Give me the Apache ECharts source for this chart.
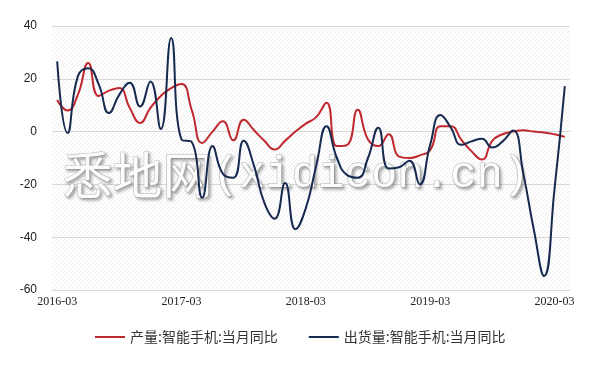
<!DOCTYPE html>
<html><head><meta charset="utf-8">
<script src="https://cdn.jsdelivr.net/npm/echarts@6/dist/echarts.min.js"></script>
<style>html,body{margin:0;padding:0;background:#fff}#c{width:612px;height:369px}</style>
</head><body><div id="c"></div><script>
const months = [
 '2016-03','2016-04','2016-05','2016-06','2016-07','2016-08','2016-09','2016-10','2016-11','2016-12',
 '2017-01','2017-02','2017-03','2017-04','2017-05','2017-06','2017-07','2017-08','2017-09','2017-10',
 '2017-11','2017-12','2018-01','2018-02','2018-03','2018-04','2018-05','2018-06','2018-07','2018-08',
 '2018-09','2018-10','2018-11','2018-12','2019-01','2019-02','2019-03','2019-04','2019-05','2019-06',
 '2019-07','2019-08','2019-09','2019-10','2019-11','2019-12','2020-01','2020-02','2020-03','2020-04'];
const xTickLabels = ['2016-03','2017-03','2018-03','2019-03','2020-03'];
const seriesNames = ['产量:智能手机:当月同比','出货量:智能手机:当月同比'];
const production = [
 12, 8, 14, 26, 13.5, 15.5, 16.5, 9, 3.3, 9,
 13.5, 16.5, 18, 8, -4.3, 0, 3.9, -3.3, 4.5, 0.5,
 -3.5, -6.8, -3.5, 0, 3, 5.5, 10.9, -5.5, -5, 8.3,
 -3, -5.5, -1, -9.5, -10, -9, -7, 2, 2, -3,
 -7.5, -10.6, -3.5, -1, 0, 0.5, 0, -0.3, -1, -2];
const shipments = [
 26.6, -0.5, 21, 24, 18, 7, 14, 18.5, 9.5, 19,
 1, 35.5, -3, -4, -25, -5.5, -16, -17.5, -3.5, -13,
 -27, -33, -19.5, -37, -29, -13, 2, -10, -16.5, -17.5,
 -10, 1.5, -14, -13.5, -11, -20, -5, 6.3, 1.5, -5,
 -3.7, -2.7, -6, -3.7, 0.4, -16, -37, -54.7, -22, 17.2];
const yMin = -60, yMax = 40, yStep = 20;

const pc = document.createElement('canvas');
pc.width = 4; pc.height = 4;
const g = pc.getContext('2d');
g.strokeStyle = '#eeeeee'; g.lineWidth = 1;
g.beginPath(); g.moveTo(0,4); g.lineTo(4,0); g.stroke();
g.beginPath(); g.moveTo(-1,1); g.lineTo(1,-1); g.stroke();
g.beginPath(); g.moveTo(3,5); g.lineTo(5,3); g.stroke();

const chart = echarts.init(document.getElementById('c'), null, {renderer:'canvas'});
chart.setOption({
  animation: false,
  backgroundColor: '#ffffff',
  grid: {left: 52, right: 42, top: 26, bottom: 79, show: true, borderWidth: 0,
         backgroundColor: {image: pc, repeat: 'repeat'}},
  xAxis: {
    type: 'category', data: months, boundaryGap: true,
    axisLine: {show: false}, axisTick: {show: false}, splitLine: {show: false},
    axisLabel: {interval: (i, v) => xTickLabels.includes(v), margin: 6,
      fontFamily: 'Liberation Serif', fontSize: 12, color: '#222'}
  },
  yAxis: {
    type: 'value', min: yMin, max: yMax, interval: yStep,
    axisLine: {show: false}, axisTick: {show: false},
    splitLine: {lineStyle: {color: '#d9d9d9', width: 1}},
    axisLabel: {margin: 15, fontFamily: 'Liberation Sans', fontSize: 12, color: '#222'}
  },
  legend: {
    left: 90, top: 325, itemWidth: 30, itemHeight: 2, itemGap: 31, icon: 'rect',
    textStyle: {fontFamily: 'Noto Sans CJK SC', fontSize: 14, color: '#333'},
    data: seriesNames
  },
  graphic: [{
    type: 'text', left: 62, top: 150, z: 1, silent: true,
    style: {
      text: '{a|悉地网}{b|(xidicon.cn)}',
      rich: {
        a: {fontFamily: 'Noto Sans CJK SC', fontSize: 50, fill: '#fcfcfc', stroke: '#b5b5b5', lineWidth: 1},
        b: {fontFamily: 'Liberation Mono', fontSize: 44, fill: '#fcfcfc', stroke: '#b5b5b5', lineWidth: 1}
      },
      textShadowColor: 'rgba(0,0,0,0.3)', textShadowBlur: 3, textShadowOffsetX: 2, textShadowOffsetY: 2
    }
  }],
  series: [
    {name: seriesNames[0], type: 'line', data: production, smooth: 0.5, symbol: 'none', z: 3,
     lineStyle: {color: '#c0282f', width: 2}, itemStyle: {color: '#c0282f'}},
    {name: seriesNames[1], type: 'line', data: shipments, smooth: 0.5, symbol: 'none', z: 4,
     lineStyle: {color: '#16294f', width: 2}, itemStyle: {color: '#16294f'}}
  ]
});
</script></body></html>
